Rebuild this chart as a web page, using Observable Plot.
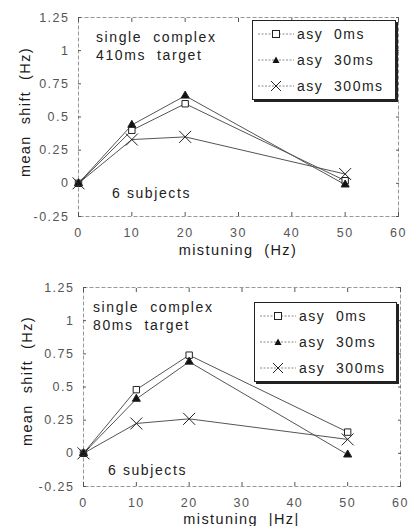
<!DOCTYPE html>
<html>
<head>
<meta charset="utf-8">
<script src="https://cdn.jsdelivr.net/npm/d3@7"></script>
<script src="https://cdn.jsdelivr.net/npm/@observablehq/plot@0.6"></script>
<style>
  html, body { margin: 0; padding: 0; background: #fff; }
  #wrap { position: relative; width: 410px; height: 526px; font-family: "Liberation Sans", Arial, sans-serif; }
  .panel { position: absolute; left: 0; }
  .note { position: absolute; font-size: 14px; letter-spacing: 1.6px; color: #222; white-space: pre; line-height: 18px; }
  .axlab { position: absolute; font-size: 14.5px; letter-spacing: 1.4px; color: #1a1a1a; white-space: pre; line-height: 14px; }
  .legend { position: absolute; background: #fff; border: 1px solid #222; box-shadow: 2px 2px 0 #222; padding: 0 0 0 4px; }
  .legend .row { display: flex; align-items: center; height: 26px; font-size: 14px; letter-spacing: 1.5px; white-space: pre; color: #222; }
  .legend svg { margin-right: 2px; }
</style>
</head>
<body>
<div id="wrap"></div>
<script>
// ---- data ----
const mistuning = [0, 10, 20, 50];
const seriesNames = ["asy  0ms", "asy  30ms", "asy  300ms"];
const top0ms   = [0, 0.40, 0.60, 0.02];
const top30ms  = [0, 0.44, 0.66, -0.01];
const top300ms = [0, 0.33, 0.35, 0.07];
const bot0ms   = [0, 0.48, 0.74, 0.16];
const bot30ms  = [0, 0.41, 0.69, -0.01];
const bot300ms = [0, 0.225, 0.26, 0.105];
const xTicks = [0, 10, 20, 30, 40, 50, 60];
const yTicks = [-0.25, 0, 0.25, 0.5, 0.75, 1, 1.25];
const topNotes = ["single  complex", "410ms  target", "6 subjects"];
const botNotes = ["single  complex", "80ms  target", "6 subjects"];
const xLabels = ["mistuning  (Hz)", "mistuning  |Hz|"];
const yLabel = "mean  shift  (Hz)";

const symbols = ["square", "triangle", "times"];
const fills = ["white", "#111", "none"];
const radii = [3.6, 3.0, 5.5];

function toRows(vals) {
  return vals.flatMap((v, s) => mistuning.map((x, i) => ({x, y: v[i], s})));
}

function makePanel(vals, opts) {
  const rows = toRows(vals);
  const marks = [
    Plot.frame({stroke: "#999", strokeDasharray: "4,2"}),
    Plot.axisX({ticks: xTicks, tickSize: -4, tickPadding: 16, stroke: "#555",
      tickFormat: d => String(d), label: null}),
    Plot.axisX({anchor: "top", ticks: xTicks, tickSize: -4, stroke: "#555", tickFormat: () => "", label: null}),
    Plot.axisY({ticks: yTicks, tickSize: -3, tickPadding: 12, stroke: "#555",
      tickFormat: d => String(d), label: null}),
    Plot.axisY({anchor: "right", ticks: yTicks, tickSize: -3, stroke: "#555", tickFormat: () => "", label: null})
  ];
  for (let s = 0; s < 3; s++) {
    const d = rows.filter(r => r.s === s);
    marks.push(Plot.line(d, {x: "x", y: "y", stroke: "#555", strokeWidth: 1}));
  }
  for (let s = 0; s < 3; s++) {
    const d = rows.filter(r => r.s === s);
    marks.push(Plot.dot(d, {x: "x", y: "y", symbol: () => symbols[s], r: radii[s],
      fill: fills[s], stroke: "#222", strokeWidth: 1}));
  }
  return Plot.plot({
    width: 410, height: opts.height,
    marginLeft: opts.ml, marginRight: opts.mr, marginTop: opts.mt, marginBottom: opts.mb,
    x: {domain: [0, 60]},
    y: {domain: [-0.25, 1.25]},
    symbol: {type: "identity"},
    style: {fontFamily: "Liberation Sans, Arial, sans-serif", fontSize: "12.5px", color: "#555", letterSpacing: "1.5px", background: "white"},
    marks
  });
}

const wrap = document.getElementById("wrap");

function legendRow(i) {
  const row = document.createElement("div");
  row.className = "row";
  const ns = "http://www.w3.org/2000/svg";
  const svg = document.createElementNS(ns, "svg");
  svg.setAttribute("width", 38); svg.setAttribute("height", 14);
  const line = document.createElementNS(ns, "line");
  line.setAttribute("x1", 1); line.setAttribute("x2", 37); line.setAttribute("y1", 7); line.setAttribute("y2", 7);
  line.setAttribute("stroke", "#888"); line.setAttribute("stroke-dasharray", "2,1.5");
  svg.appendChild(line);
  let m;
  if (i === 0) {
    m = document.createElementNS(ns, "rect");
    m.setAttribute("x", 15.5); m.setAttribute("y", 3.5); m.setAttribute("width", 7); m.setAttribute("height", 7);
    m.setAttribute("fill", "white"); m.setAttribute("stroke", "#222");
  } else if (i === 1) {
    m = document.createElementNS(ns, "path");
    m.setAttribute("d", "M19,3.5L22.5,10L15.5,10Z"); m.setAttribute("fill", "#111");
  } else {
    m = document.createElementNS(ns, "path");
    m.setAttribute("d", "M14,2L24,12M24,2L14,12"); m.setAttribute("stroke", "#222"); m.setAttribute("fill", "none");
  }
  svg.appendChild(m);
  row.appendChild(svg);
  const t = document.createElement("span");
  t.textContent = seriesNames[i];
  row.appendChild(t);
  return row;
}

function addText(cls, text, left, top, extra) {
  const d = document.createElement("div");
  d.className = cls;
  d.style.left = left + "px"; d.style.top = top + "px";
  d.textContent = text;
  if (extra) Object.assign(d.style, extra);
  wrap.appendChild(d);
  return d;
}

function addPanel(vals, xLabel, notes, opts) {
  const div = document.createElement("div");
  div.className = "panel";
  div.style.top = opts.top + "px";
  div.appendChild(makePanel(vals, opts));
  wrap.appendChild(div);
  addText("note", notes[0] + "\n" + notes[1], opts.noteX, opts.top + opts.noteY);
  addText("note", notes[2], opts.subX, opts.top + opts.subY);
  const cx = (opts.ml + 410 - opts.mr) / 2;
  addText("axlab", xLabel, cx, opts.top + opts.xlY, {transform: "translateX(-50%)"});
  addText("axlab", yLabel, opts.ylX, opts.top + opts.ylY, {transform: "translate(-50%,-50%) rotate(-90deg)"});
  const lg = document.createElement("div");
  lg.className = "legend";
  lg.style.left = opts.lgX + "px"; lg.style.top = (opts.top + opts.lgY) + "px";
  lg.style.width = opts.lgW + "px";
  for (let i = 0; i < 3; i++) lg.appendChild(legendRow(i));
  wrap.appendChild(lg);
}

addPanel([top0ms, top30ms, top300ms], xLabels[0], topNotes,
  {top: 0, height: 260, ml: 78, mr: 12, mt: 17, mb: 44,
   noteX: 96, noteY: 28, subX: 112, subY: 184, lgX: 252, lgY: 20, lgW: 138,
   xlY: 243, ylX: 25, ylY: 112});
addPanel([bot0ms, bot30ms, bot300ms], xLabels[1], botNotes,
  {top: 260, height: 266, ml: 83, mr: 10, mt: 27, mb: 40,
   noteX: 93, noteY: 38, subX: 108, subY: 201, lgX: 254, lgY: 42, lgW: 137,
   xlY: 252, ylX: 27, ylY: 121});
</script>
</body>
</html>
